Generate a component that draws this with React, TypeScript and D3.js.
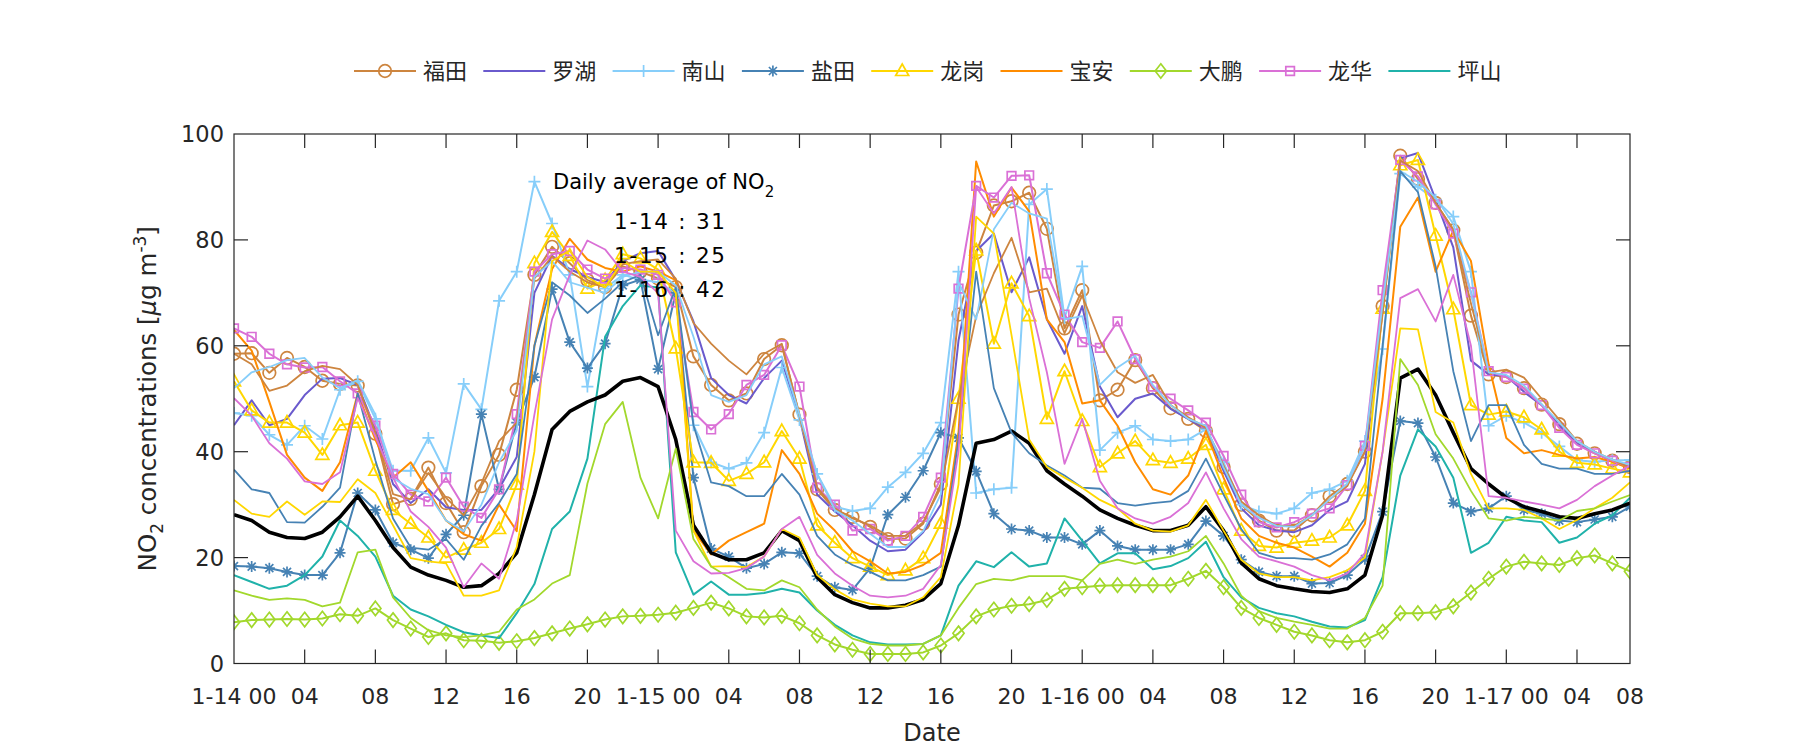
import React from "react";
import * as d3 from "d3";

const W = 1800;
const H = 750;
const PL = 234, PR = 1630, PT = 134, PB = 663.5;

// x: hourly index, 1-14 00 -> 1-17 08
const tickIndex = [0, 4, 8, 12, 16, 20, 24, 28, 32, 36, 40, 44, 48, 52, 56, 60, 64, 68, 72, 76, 79];
const tickLabels = ["1-14 00", "04", "08", "12", "16", "20", "1-15 00", "04", "08", "12", "16", "20", "1-16 00", "04", "08", "12", "16", "20", "1-17 00", "04", "08"];
const yTicks = [0, 20, 40, 60, 80, 100];

const futian = [58.5, 58.6, 54.9, 57.7, 56.0, 53.4, 52.8, 52.5, 43.4, 30.1, 31.1, 37.0,
  30.3, 24.8, 33.5, 39.4, 51.7, 73.4, 78.7, 75.6, 72.4, 71.1, 75.0, 74.0,
  72.7, 71.1, 58.0, 52.6, 49.7, 51.0, 57.5, 60.1, 47.0, 32.9, 29.0, 27.7,
  25.8, 23.5, 23.6, 26.4, 33.9, 65.9, 77.6, 86.5, 87.3, 88.9, 82.1, 63.3,
  70.5, 49.7, 51.7, 57.3, 52.0, 48.2, 46.2, 43.9, 37.1, 30.0, 27.0, 25.1,
  25.1, 28.0, 31.6, 33.9, 40.0, 67.5, 95.9, 91.5, 87.0, 81.8, 65.7, 54.6,
  54.1, 52.0, 48.9, 45.2, 41.5, 39.7, 38.3, 37.1];
const futianB = [58.5, 56.5, 51.5, 52.5, 55.2, 56.2, 55.6, 52.6, 43.6, 32.0, 31.0, 36.0,
  31.3, 28.0, 34.0, 42.0, 45.5, 72.7, 76.9, 74.0, 72.0, 71.1, 75.4, 76.0,
  76.3, 72.7, 64.3, 60.4, 57.2, 54.6, 58.5, 60.4, 46.8, 33.2, 29.3, 27.4,
  26.1, 24.1, 24.1, 26.7, 33.2, 50.0, 65.6, 73.7, 80.4, 70.1, 70.8, 62.4,
  69.5, 61.0, 55.0, 53.0, 54.5, 48.8, 46.5, 44.5, 37.4, 30.6, 28.0, 26.0,
  26.0, 28.0, 31.0, 33.5, 40.0, 66.0, 95.0, 93.0, 87.0, 82.0, 68.0, 55.0,
  55.5, 54.0, 50.0, 46.0, 42.0, 40.0, 38.5, 37.0];
const luohu = [45.0, 49.7, 45.0, 46.2, 50.7, 53.8, 53.9, 52.6, 44.2, 33.9, 30.3, 32.9,
  29.5, 29.0, 29.0, 33.0, 39.0, 70.0, 77.0, 74.5, 73.0, 72.0, 76.0, 77.5,
  77.9, 72.4, 64.6, 53.9, 50.7, 49.1, 53.9, 57.2, 46.5, 31.9, 28.7, 26.1,
  23.2, 21.2, 21.5, 24.8, 30.0, 61.0, 77.9, 81.2, 70.1, 76.7, 65.0, 58.5,
  67.5, 52.3, 46.5, 50.0, 51.0, 48.1, 46.2, 44.2, 36.4, 29.3, 26.1, 25.1,
  24.8, 26.1, 29.0, 30.6, 37.7, 66.9, 95.4, 96.4, 87.6, 78.6, 57.2, 54.6,
  54.3, 51.3, 48.8, 44.9, 41.6, 40.0, 38.1, 37.0];
const nanshan = [47.3, 46.8, 43.2, 41.3, 44.9, 42.4, 51.7, 53.3, 46.2, 36.4, 36.4, 42.6,
  36.0, 52.8, 48.0, 68.5, 74.0, 91.0, 83.1, 73.4, 52.3, 70.8, 73.4, 72.5,
  72.0, 70.0, 45.0, 38.0, 36.8, 37.9, 43.6, 55.9, 46.0, 35.8, 29.6, 28.8,
  29.3, 33.3, 36.1, 39.7, 45.5, 74.0, 32.2, 32.9, 33.2, 86.7, 89.6, 65.3,
  75.0, 40.3, 43.6, 44.9, 42.3, 42.0, 42.3, 44.2, 38.0, 30.0, 28.7, 28.3,
  29.3, 32.2, 32.9, 34.5, 42.0, 59.4, 92.5, 90.0, 87.6, 84.4, 74.0, 44.9,
  46.8, 45.5, 43.6, 41.0, 38.4, 38.1, 38.4, 38.4];
const nanshanB = [52.0, 55.0, 56.0, 57.3, 57.7, 54.0, 52.0, 53.5, 47.0, 35.0, 33.0, 32.0,
  27.0, 25.0, 30.0, 38.0, 44.0, 73.0, 76.0, 72.0, 71.0, 70.0, 73.0, 74.0,
  74.0, 71.4, 61.7, 50.7, 49.4, 50.7, 56.5, 58.0, 47.0, 35.8, 29.0, 27.0,
  24.5, 22.0, 22.0, 25.0, 32.0, 72.0, 65.0, 82.0, 87.0, 85.0, 84.0, 65.0,
  65.6, 52.6, 55.9, 58.1, 52.6, 48.8, 46.2, 44.9, 37.0, 30.0, 27.5, 26.0,
  25.8, 28.0, 31.0, 34.0, 41.0, 68.0, 93.0, 91.0, 88.0, 83.0, 70.0, 55.0,
  54.5, 52.5, 49.0, 45.5, 42.0, 40.0, 38.5, 37.5];
const yantian = [18.4, 18.3, 18.0, 17.3, 16.7, 16.7, 20.9, 32.2, 29.0, 22.8, 21.5, 19.9,
  24.4, 28.0, 47.1, 32.9, 45.5, 54.1, 70.7, 60.7, 55.8, 60.4, 71.4, 72.5,
  55.6, 70.0, 35.1, 21.7, 20.2, 18.0, 18.8, 21.0, 20.8, 16.5, 14.4, 13.9,
  18.0, 28.1, 31.4, 36.4, 43.6, 42.6, 36.3, 28.3, 25.4, 25.1, 23.8, 23.8,
  22.5, 25.1, 22.2, 21.5, 21.5, 21.5, 22.5, 26.9, 24.1, 19.6, 17.3, 16.5,
  16.5, 15.1, 15.2, 16.7, 19.7, 28.7, 45.8, 45.4, 39.0, 30.3, 28.7, 29.3,
  31.6, 29.0, 28.3, 27.0, 26.7, 27.2, 27.7, 29.6];
const yantianB = [36.6, 32.9, 32.2, 26.7, 26.6, 29.6, 33.2, 51.0, 38.4, 27.4, 21.9, 21.5,
  23.5, 19.6, 26.0, 30.3, 35.8, 60.0, 72.0, 69.5, 66.2, 68.9, 72.0, 73.4,
  62.0, 71.0, 45.0, 34.2, 33.5, 31.6, 31.6, 35.8, 31.9, 24.1, 20.6, 18.6,
  17.3, 15.7, 15.7, 16.7, 18.3, 42.3, 74.0, 52.0, 43.6, 39.7, 37.4, 35.5,
  33.2, 33.0, 30.3, 29.8, 30.3, 30.6, 32.6, 38.7, 31.9, 25.4, 20.9, 19.9,
  19.9, 19.6, 20.6, 22.5, 27.4, 60.0, 93.0, 89.0, 75.0, 55.2, 42.0, 48.8,
  48.8, 41.3, 37.7, 36.8, 36.8, 35.8, 35.8, 36.4];
const longgang = [53.3, 47.8, 45.5, 45.5, 43.6, 39.4, 45.0, 45.5, 36.4, 29.0, 26.4, 23.8,
  20.0, 21.5, 22.8, 25.4, 33.8, 75.6, 81.5, 77.0, 70.8, 72.4, 77.3, 76.5,
  74.4, 59.5, 38.0, 37.9, 34.5, 35.8, 38.0, 43.9, 38.7, 26.1, 22.8, 19.9,
  18.3, 16.7, 17.6, 19.9, 26.4, 50.0, 78.0, 60.4, 71.8, 65.6, 46.2, 55.2,
  45.8, 37.1, 39.7, 42.0, 38.4, 37.9, 38.7, 41.3, 32.9, 25.1, 22.2, 21.9,
  22.8, 23.2, 23.8, 26.1, 32.6, 67.0, 94.1, 95.1, 80.8, 66.9, 48.8, 47.0,
  47.6, 46.5, 44.2, 40.0, 37.9, 37.6, 36.8, 36.1];
const longgangB = [30.9, 28.3, 27.7, 30.6, 28.1, 30.6, 30.5, 34.8, 32.2, 26.1, 19.9, 19.3,
  18.9, 12.8, 12.8, 13.8, 22.0, 40.0, 76.0, 78.0, 73.0, 71.0, 76.0, 74.0,
  74.0, 70.0, 25.1, 18.3, 18.4, 18.2, 20.2, 25.4, 23.8, 16.7, 14.0, 12.1,
  11.3, 10.8, 10.8, 12.5, 16.3, 33.8, 84.4, 81.2, 62.0, 42.3, 37.1, 35.1,
  33.2, 30.9, 29.3, 26.4, 25.1, 24.9, 26.1, 30.9, 25.1, 19.6, 17.0, 16.3,
  16.3, 15.7, 16.3, 17.6, 20.0, 40.0, 63.3, 63.1, 47.5, 45.5, 35.8, 29.3,
  29.3, 29.0, 27.4, 25.4, 27.1, 29.3, 31.3, 34.2];
const baoan = [63.0, 59.1, 49.4, 39.4, 35.1, 32.6, 38.0, 51.0, 42.3, 35.1, 38.0, 32.6,
  27.0, 24.4, 23.2, 30.0, 25.0, 60.0, 74.5, 80.2, 76.3, 74.7, 74.0, 75.0,
  74.0, 72.4, 25.1, 20.6, 23.2, 24.8, 26.4, 40.3, 35.8, 28.3, 25.1, 21.2,
  19.3, 17.0, 17.3, 18.6, 20.9, 43.6, 94.8, 84.4, 89.9, 85.4, 65.0, 60.7,
  49.1, 49.7, 44.9, 38.0, 32.9, 31.9, 35.5, 43.9, 35.1, 27.4, 24.1, 22.8,
  21.9, 20.2, 18.3, 20.9, 26.4, 50.0, 82.5, 88.0, 74.0, 81.8, 76.0, 56.5,
  42.6, 39.7, 40.3, 39.4, 38.7, 39.0, 38.1, 36.8];
const dapeng = [7.8, 8.2, 8.3, 8.4, 8.3, 8.5, 9.3, 9.0, 10.4, 8.2, 6.6, 5.0,
  5.7, 4.4, 4.3, 3.9, 4.2, 4.8, 5.7, 6.6, 7.4, 8.3, 8.9, 9.0,
  9.2, 9.6, 10.5, 11.5, 10.4, 8.9, 8.7, 9.0, 7.6, 5.3, 3.6, 2.6,
  1.8, 1.8, 1.8, 2.1, 3.4, 5.7, 8.9, 10.2, 10.9, 11.2, 12.0, 14.1,
  14.4, 14.7, 14.8, 14.8, 14.8, 14.8, 16.0, 17.5, 14.4, 10.5, 8.6, 7.3,
  6.0, 5.3, 4.4, 4.0, 4.4, 6.0, 9.5, 9.5, 9.7, 10.8, 13.4, 16.0,
  18.3, 19.2, 18.9, 18.6, 19.9, 20.4, 18.9, 17.4];
const dapengB = [13.8, 12.8, 12.0, 12.3, 12.0, 10.8, 11.5, 21.0, 21.5, 12.5, 8.6, 6.3,
  5.3, 5.0, 5.3, 6.0, 10.2, 12.1, 15.1, 16.7, 34.0, 45.2, 49.4, 35.1,
  27.4, 40.6, 23.5, 18.3, 16.3, 14.1, 13.8, 15.7, 14.4, 10.2, 7.0, 4.7,
  3.7, 3.4, 3.4, 3.7, 5.3, 10.5, 15.0, 16.0, 15.7, 16.5, 16.5, 16.5,
  15.7, 18.8, 19.6, 18.8, 19.6, 20.2, 21.2, 24.1, 18.9, 12.8, 9.9, 8.6,
  7.9, 7.3, 6.6, 6.6, 8.6, 14.7, 57.5, 52.6, 43.3, 38.7, 32.6, 27.4,
  27.0, 27.7, 27.4, 27.0, 28.8, 29.3, 30.6, 31.8];
const longhua = [63.3, 61.7, 58.5, 56.5, 55.9, 56.0, 53.3, 51.0, 44.9, 35.8, 31.9, 30.6,
  35.1, 29.6, 27.5, 32.9, 47.1, 74.0, 77.3, 77.9, 74.4, 72.7, 74.7, 74.4,
  73.4, 68.2, 47.5, 44.2, 47.1, 52.6, 54.5, 60.1, 52.3, 33.2, 30.0, 25.1,
  25.4, 23.2, 24.1, 27.7, 35.1, 70.8, 90.2, 88.0, 92.1, 92.2, 73.7, 65.9,
  60.7, 59.6, 64.6, 57.5, 52.3, 50.0, 47.8, 45.5, 39.2, 31.9, 26.7, 25.7,
  26.7, 28.3, 29.3, 33.7, 41.1, 70.5, 95.1, 92.0, 86.7, 81.2, 70.1, 55.2,
  54.1, 51.9, 48.8, 44.5, 41.3, 39.7, 38.3, 37.1];
const longhuaB = [50.1, 46.8, 41.6, 38.7, 34.4, 33.9, 36.1, 50.1, 42.9, 35.1, 28.7, 25.8,
  21.9, 14.4, 18.9, 16.0, 27.0, 47.0, 65.0, 73.4, 79.9, 78.2, 74.0, 73.0,
  70.0, 25.1, 19.3, 17.0, 17.1, 18.0, 20.2, 25.4, 27.7, 20.5, 17.0, 14.7,
  12.8, 12.5, 12.8, 14.1, 18.6, 40.0, 90.0, 85.0, 90.0, 69.0, 55.0, 37.7,
  46.2, 34.5, 29.3, 27.4, 26.4, 27.7, 30.3, 36.1, 29.3, 23.5, 20.2, 19.3,
  18.3, 16.7, 15.7, 17.0, 20.9, 40.0, 69.0, 70.7, 64.6, 73.4, 60.0, 31.6,
  31.3, 30.6, 30.0, 29.3, 30.9, 33.5, 35.5, 37.4];
const pingshan = [16.7, 15.4, 14.1, 14.7, 16.7, 20.2, 27.0, 24.1, 20.2, 12.8, 10.2, 8.9,
  7.3, 5.9, 5.3, 4.8, 9.5, 15.0, 25.4, 28.7, 38.7, 61.7, 67.5, 71.4,
  71.0, 21.0, 13.0, 15.5, 13.0, 13.0, 13.3, 14.1, 13.4, 10.0, 7.3, 5.3,
  4.0, 3.6, 3.6, 3.7, 5.3, 14.7, 19.3, 18.2, 21.0, 18.3, 18.9, 27.4,
  23.2, 18.9, 20.8, 20.8, 17.8, 18.4, 19.9, 23.0, 16.3, 12.5, 10.5, 9.5,
  8.9, 7.9, 7.0, 6.8, 8.2, 16.3, 35.5, 44.2, 41.0, 35.1, 20.9, 22.8,
  27.7, 27.0, 26.7, 22.8, 23.8, 26.4, 28.0, 31.3];
const average = [28.1, 27.0, 24.8, 23.8, 23.6, 24.8, 27.7, 31.6, 27.0, 21.9, 18.2, 16.7,
  15.7, 14.4, 14.7, 17.0, 20.9, 31.9, 44.2, 47.6, 49.4, 50.7, 53.3, 54.0,
  52.3, 42.3, 26.1, 20.9, 19.6, 19.6, 20.9, 25.1, 23.2, 16.3, 13.0, 11.5,
  10.5, 10.5, 11.0, 12.1, 15.1, 26.1, 41.6, 42.3, 43.9, 41.6, 36.4, 33.9,
  31.6, 29.0, 27.4, 26.1, 25.1, 25.1, 26.1, 29.6, 25.1, 19.0, 16.0, 14.7,
  14.1, 13.6, 13.4, 14.1, 16.7, 28.0, 53.9, 55.6, 50.7, 43.6, 36.8, 33.9,
  31.3, 29.6, 28.7, 27.7, 27.4, 28.3, 29.0, 30.3];

const dailyLabels = ["1-14 : 31", "1-15 : 25", "1-16 : 42"];

const C = {
  futian: "#CD853F", luohu: "#6A5ACD", nanshan: "#87CEFA", yantian: "#4682B4",
  longgang: "#FFD700", baoan: "#FF8C00", dapeng: "#A2D82C", longhua: "#DA70D6", pingshan: "#20B2AA",
};

type Marker = "o" | "+" | "*" | "^" | "d" | "s" | "none";
interface S { name: string; data: number[]; color: string; marker: Marker; }

const legendSeries: S[] = [
  { name: "福田", data: futian, color: C.futian, marker: "o" },
  { name: "罗湖", data: luohu, color: C.luohu, marker: "none" },
  { name: "南山", data: nanshan, color: C.nanshan, marker: "+" },
  { name: "盐田", data: yantian, color: C.yantian, marker: "*" },
  { name: "龙岗", data: longgang, color: C.longgang, marker: "^" },
  { name: "宝安", data: baoan, color: C.baoan, marker: "none" },
  { name: "大鹏", data: dapeng, color: C.dapeng, marker: "d" },
  { name: "龙华", data: longhua, color: C.longhua, marker: "s" },
  { name: "坪山", data: pingshan, color: C.pingshan, marker: "none" },
];
const extraSeries: S[] = [
  { name: "福田b", data: futianB, color: C.futian, marker: "none" },
  { name: "南山b", data: nanshanB, color: C.nanshan, marker: "none" },
  { name: "盐田b", data: yantianB, color: C.yantian, marker: "none" },
  { name: "龙岗b", data: longgangB, color: C.longgang, marker: "none" },
  { name: "大鹏b", data: dapengB, color: C.dapeng, marker: "none" },
  { name: "龙华b", data: longhuaB, color: C.longhua, marker: "none" },
];

const x = d3.scaleLinear().domain([0, 79]).range([PL, PR]);
const y = d3.scaleLinear().domain([0, 100]).range([PB, PT]);

function markerEl(m: Marker, cx: number, cy: number, color: string, key: string) {
  const sw = 1.7;
  if (m === "o") return <circle key={key} cx={cx} cy={cy} r={6.3} fill="none" stroke={color} strokeWidth={sw} />;
  let d = "";
  if (m === "+") d = `M${cx - 6},${cy}H${cx + 6}M${cx},${cy - 6}V${cy + 6}`;
  if (m === "*") d = `M${cx - 5.5},${cy}H${cx + 5.5}M${cx},${cy - 5.5}V${cy + 5.5}M${cx - 4},${cy - 4}L${cx + 4},${cy + 4}M${cx - 4},${cy + 4}L${cx + 4},${cy - 4}`;
  if (m === "^") d = `M${cx},${cy - 7}L${cx + 6.5},${cy + 4.5}L${cx - 6.5},${cy + 4.5}Z`;
  if (m === "d") d = `M${cx},${cy - 7.2}L${cx + 5.6},${cy}L${cx},${cy + 7.2}L${cx - 5.6},${cy}Z`;
  if (m === "s") d = `M${cx - 4.3},${cy - 4.3}h8.6v8.6h-8.6Z`;
  return <path key={key} d={d} fill="none" stroke={color} strokeWidth={sw} />;
}

const FONT = "'DejaVu Sans', sans-serif";
const CJK = "'Noto Sans CJK SC', sans-serif";
const TXT = "#262626";

export default function App() {
  const line = d3.line<number>().x((_, i) => x(i)).y((v) => y(v));
  const renderSeries = (s: S, w: number) => (
    <g key={s.name}>
      <path d={line(s.data) || ""} fill="none" stroke={s.color} strokeWidth={w} strokeLinejoin="round" />
      {s.marker !== "none" && s.data.map((v, i) => markerEl(s.marker, x(i), y(v), s.color, `${s.name}-${i}`))}
    </g>
  );
  const legendStart = 354, legendStep = 129.3, legendY = 71;
  return (
    <svg width={W} height={H} style={{ display: "block", position: "absolute", left: 0, top: 0 }}>
      <rect x={0} y={0} width={W} height={H} fill="#fff" />
      <defs>
        <clipPath id="plotclip"><rect x={PL} y={PT - 8} width={PR - PL} height={PB - PT + 8} /></clipPath>
      </defs>
      <g clipPath="url(#plotclip)">
        {legendSeries.map((s) => renderSeries(s, 2))}
        <path d={line(average) || ""} fill="none" stroke="#000" strokeWidth={3.6} strokeLinejoin="round" />
        {extraSeries.map((s) => renderSeries(s, 1.8))}
      </g>
      <rect x={PL} y={PT} width={PR - PL} height={PB - PT} fill="none" stroke={TXT} strokeWidth={1.2} />
      {tickIndex.filter((t) => t > 0 && t < 79).map((t) => (
        <g key={`xt${t}`}>
          <line x1={x(t)} x2={x(t)} y1={PB} y2={PB - 14} stroke={TXT} strokeWidth={1.2} />
          <line x1={x(t)} x2={x(t)} y1={PT} y2={PT + 14} stroke={TXT} strokeWidth={1.2} />
        </g>
      ))}
      {yTicks.filter((t) => t > 0 && t < 100).map((t) => (
        <g key={`yt${t}`}>
          <line x1={PL} x2={PL + 14} y1={y(t)} y2={y(t)} stroke={TXT} strokeWidth={1.2} />
          <line x1={PR} x2={PR - 14} y1={y(t)} y2={y(t)} stroke={TXT} strokeWidth={1.2} />
        </g>
      ))}
      {tickIndex.map((t, i) => (
        <text key={`xl${i}`} x={x(t)} y={704} textAnchor="middle" fontFamily={FONT} fontSize={22} fill={TXT}>{tickLabels[i]}</text>
      ))}
      {yTicks.map((t) => (
        <text key={`yl${t}`} x={224} y={y(t) + 8} textAnchor="end" fontFamily={FONT} fontSize={22.5} fill={TXT}>{t}</text>
      ))}
      <text x={(PL + PR) / 2} y={741} textAnchor="middle" fontFamily={FONT} fontSize={24} fill={TXT}>Date</text>
      <text transform={`translate(156, ${(PT + PB) / 2}) rotate(-90)`} textAnchor="middle" fontFamily={FONT} fontSize={24.5} fill={TXT}>
        NO<tspan fontSize={17} dy={7}>2</tspan><tspan dy={-7}> concentrations [</tspan><tspan fontStyle="italic">μ</tspan>g m<tspan fontSize={17} dy={-10}>-3</tspan><tspan dy={10}>]</tspan>
      </text>
      <text x={553} y={189} fontFamily={FONT} fontSize={21} fill="#000">
        Daily average of NO<tspan fontSize={15} dy={8}>2</tspan>
      </text>
      {dailyLabels.map((s, i) => (
        <text key={s} x={614} y={229 + i * 34} fontFamily={FONT} fontSize={21.5} fill="#000" textLength={111} lengthAdjust="spacing">{s}</text>
      ))}
      {legendSeries.map((s, i) => {
        const x0 = legendStart + i * legendStep;
        return (
          <g key={`lg${s.name}`}>
            <line x1={x0} x2={x0 + 62} y1={legendY} y2={legendY} stroke={s.color} strokeWidth={2} />
            {s.marker !== "none" && markerEl(s.marker, x0 + 31, legendY, s.color, `lgm${i}`)}
            <text x={x0 + 69} y={legendY + 8} fontFamily={CJK} fontSize={22} fill={TXT}>{s.name}</text>
          </g>
        );
      })}
    </svg>
  );
}
